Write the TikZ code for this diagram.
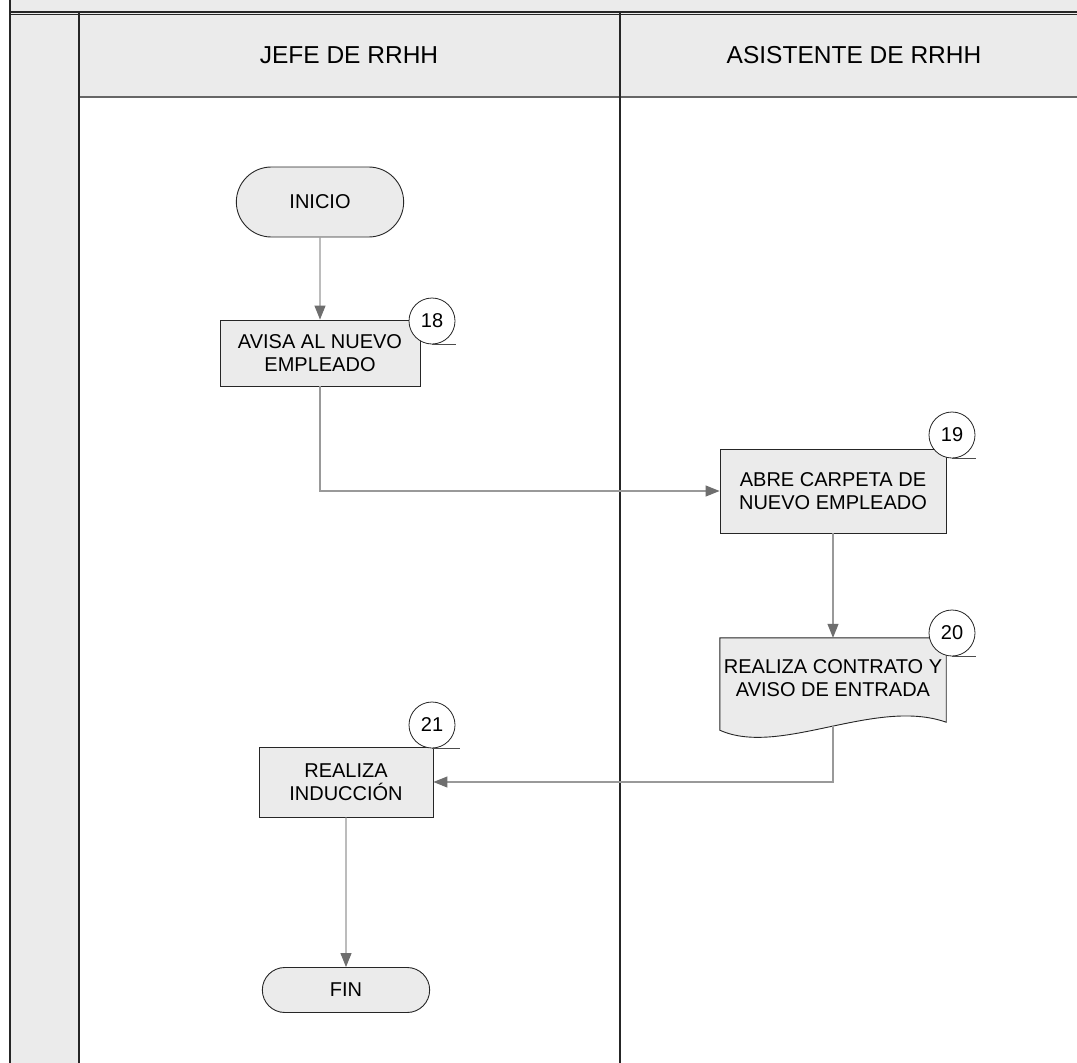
\documentclass[tikz,border=0pt]{standalone}
\usepackage{fontspec}
\setmainfont{Liberation Sans}
\usetikzlibrary{arrows.meta,shapes.misc}

\definecolor{lanegray}{HTML}{EBEBEB}
\definecolor{flowgray}{HTML}{999999}
\definecolor{tipgray}{HTML}{6E6E6E}

\begin{document}
\begin{tikzpicture}[
  x=1pt,
  y=-1pt,
  proc/.style={
    draw=black!85,
    fill=lanegray,
    line width=0.9pt,
    minimum width=200pt,
    minimum height=66pt,
    align=center,
    font=\fontsize{20}{22.5}\selectfont
  },
  term/.style={
    proc,
    rounded rectangle
  },
  docline/.style={
    draw=black!85,
    fill=lanegray,
    line width=0.9pt
  },
  numcirc/.style={
    circle,
    draw=black!85,
    fill=white,
    line width=0.8pt,
    minimum size=46pt,
    inner sep=0pt,
    font=\fontsize{20}{22}\selectfont
  },
  numtick/.style={
    draw=black!70,
    line width=0.8pt
  },
  flow/.style={
    draw=flowgray,
    line width=1.1pt,
    -{Triangle[length=14pt,width=11pt,color=tipgray]}
  },
  lane title/.style={
    font=\fontsize{24.5}{28}\selectfont
  },
  lane line/.style={
    draw=black!85,
    line width=1.2pt
  },
]
\useasboundingbox (0,0) rectangle (1077,1063);
\clip (0,0) rectangle (1077,1063);

% swimlanes
\fill[white] (0,0) rectangle (1077,1063);
\fill[lanegray] (10,0) rectangle (1090,13);
\fill[lanegray] (10,13) rectangle (79,1070);
\fill[lanegray] (79,13) rectangle (1090,97);
\draw[black!60, line width=1.2pt] (79,97) -- (1090,97);
\draw[lane line] (10,0) -- (10,1070);
\draw[lane line] (79,13) -- (79,1070);
\draw[lane line] (620,13) -- (620,1070);
\draw[lane line] (10,12) -- (1090,12);
\draw[lane line] (10,14.5) -- (1090,14.5);

\node[lane title] (jefe) at (349,55) {JEFE DE RRHH};
\node[lane title] (asist) at (854,55) {ASISTENTE DE RRHH};

% steps
\node[term, minimum width=174pt, minimum height=70pt] (inicio) at (320,202) {INICIO};
\node[proc] (avisa) at (320,353) {AVISA AL NUEVO\\EMPLEADO};
\node[proc, minimum width=226pt, minimum height=84pt] (abre) at (833,491) {ABRE CARPETA DE\\NUEVO EMPLEADO};
\node[minimum width=226pt, minimum height=80pt] (doc) at (833,678) {};
\filldraw[docline] (doc.north west) -- (doc.north east)
  -- ([yshift=-4pt]doc.south east)
  .. controls +(-71,-25) and +(60,27) .. ([yshift=-12pt]doc.south west)
  -- cycle;
\node[align=center, font=\fontsize{20}{22.5}\selectfont] (doctxt) at (doc.center)
  {REALIZA CONTRATO Y\\AVISO DE ENTRADA};
\coordinate (docb) at ([yshift=-8pt]doc.south);
\node[proc, minimum width=174pt, minimum height=70pt] (induc) at (346,782) {REALIZA\\INDUCCIÓN};
\node[term, minimum width=174pt, minimum height=45pt] (fin) at (346,990) {FIN};

% step numbers
\node[numcirc] (n18) at (432,321) {18};
\draw[numtick] (n18.south) -- ++(24,0);
\node[numcirc] (n19) at (952,435) {19};
\draw[numtick] (n19.south) -- ++(24,0);
\node[numcirc] (n20) at (952,633) {20};
\draw[numtick] (n20.south) -- ++(24,0);
\node[numcirc] (n21) at (432,725) {21};
\draw[numtick] (n21.south) -- ++(28,0);

% connectors
\draw[flow] (inicio) -- (avisa);
\draw[flow] (avisa.south) |- (abre.west);
\draw[flow] (abre) -- (doc);
\draw[flow] (docb) |- (induc.east);
\draw[flow] (induc) -- (fin);
\end{tikzpicture}
\end{document}
